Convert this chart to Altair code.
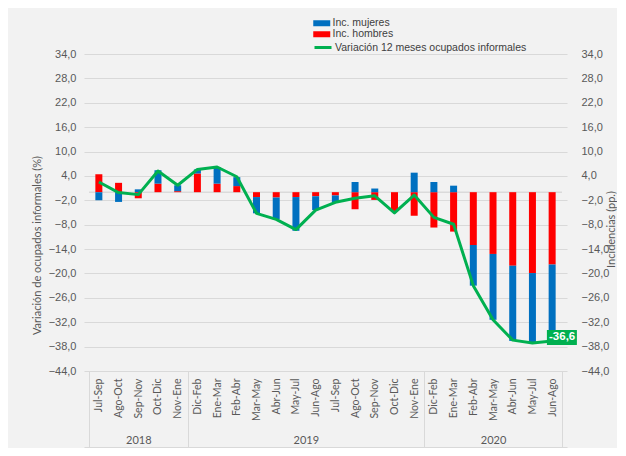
import json
import altair as alt
import pandas as pd

# ---------------- data ----------------
meses = ["Jul-Sep", "Ago-Oct", "Sep-Nov", "Oct-Dic", "Nov-Ene",
         "Dic-Feb", "Ene-Mar", "Feb-Abr", "Mar-May", "Abr-Jun", "May-Jul", "Jun-Ago",
         "Jul-Sep", "Ago-Oct", "Sep-Nov", "Oct-Dic", "Nov-Ene",
         "Dic-Feb", "Ene-Mar", "Feb-Abr", "Mar-May", "Abr-Jun", "May-Jul", "Jun-Ago"]
anios = ["2018", "2019", "2020"]
anio_meses = [5, 12, 7]

inc_hombres = [4.4, 2.3, -1.5, 2.1, 0.25, 4.6, 2.1, 1.5, -1.2, -1.3, -1.2, -1.0,
               -0.8, -4.2, -1.9, -4.7, -5.8, -8.7, -9.7, -13.0, -15.2, -18.1, -19.9, -17.8]
inc_mujeres = [-2.0, -2.4, 0.7, 3.3, 1.45, 1.0, 4.1, 2.2, -4.0, -5.4, -8.3, -3.4,
               -1.7, 2.5, 0.9, 0.0, 4.8, 2.5, 1.6, -10.0, -16.2, -18.5, -17.0, -18.8]
variacion = [2.5, -0.1, -0.6, 5.2, 1.7, 5.6, 6.2, 3.8, -5.2, -6.7, -9.2, -4.4,
             -2.5, -1.5, -0.9, -5.1, -0.7, -6.2, -7.9, -23.0, -31.4, -36.4, -37.1, -36.6]
y_ticks = [-44, -38, -32, -26, -20, -14, -8, -2, 4, 10, 16, 22, 28, 34]

S_MUJ = "Inc. mujeres"
S_HOM = "Inc. hombres"
S_VAR = "Variación 12 meses ocupados informales"

n = len(meses)
idx = list(range(n))

bars = pd.DataFrame(
    [{"idx": i, "serie": S_HOM, "valor": inc_hombres[i], "orden": 0} for i in idx]
    + [{"idx": i, "serie": S_MUJ, "valor": inc_mujeres[i], "orden": 1} for i in idx]
)
line = pd.DataFrame({"idx": idx, "valor": variacion, "serie": [S_VAR] * n})
last = pd.DataFrame({"idx": [idx[-1]], "valor": [variacion[-1]],
                     "txt": [f"{variacion[-1]:.1f}".replace(".", ",")]})
zero = pd.DataFrame({"x0": [-0.5], "x1": [n - 0.5], "y": [0]})

# year group positions (centers and boundaries in category units)
bounds = [-0.5]
centers = []
for k in anio_meses:
    centers.append(bounds[-1] + k / 2)
    bounds.append(bounds[-1] + k)

# ---------------- style ----------------
W, H = 483, 317
GRID = "#d9d9d9"
TXT = "#595959"
F_AX = "Liberation Sans"
F_CAT = "Lato"
BLUE, RED, GREEN = "#0070c0", "#ff0000", "#00b050"

xscale = alt.Scale(domain=[-0.5, n - 0.5], nice=False, zero=False)
yscale = alt.Scale(domain=[-44, 34], nice=False, zero=False)
ylab = "replace(format(datum.value, '.1f'), '.', ',')"

month_expr = json.dumps(meses) + "[datum.value]"
year_expr = " : ".join(
    f"datum.value == {c} ? '{a}'" for c, a in zip(centers[:-1], anios[:-1])
) + f" : '{anios[-1]}'"

x_month = alt.X("idx:Q", scale=xscale, axis=alt.Axis(
    orient="bottom", values=idx, labelExpr=month_expr, labelAngle=270,
    ticks=False, domain=False, grid=False, labelPadding=7,
    labelFont=F_CAT, labelFontSize=10.5, labelColor=TXT, title=None))

y_left = alt.Y("valor:Q", scale=yscale, stack="zero", axis=alt.Axis(
    orient="left", values=y_ticks, labelExpr=ylab, grid=True, gridColor=GRID,
    ticks=False, domain=False, labelPadding=8,
    labelFont=F_AX, labelFontSize=11, labelColor=TXT,
    title="Variación de ocupados informales (%)", titleFont=F_CAT,
    titleFontSize=11, titleFontWeight="normal", titleColor=TXT,
    titleAngle=270, titleX=-47, titleY=191, titleBaseline="middle",
    titleAlign="center"))

legend_common = dict(orient="none", title=None, symbolSize=100,
                     labelFont=F_AX, labelFontSize=10.5, labelColor="#404040",
                     labelOffset=5.5, labelLimit=0, rowPadding=0, padding=0)

bar_layer = alt.Chart(bars).mark_bar(size=7).encode(
    x=x_month,
    y=y_left,
    color=alt.Color("serie:N", scale=alt.Scale(domain=[S_MUJ, S_HOM], range=[BLUE, RED]),
                    legend=alt.Legend(legendX=232.5, legendY=-36,
                                      symbolType="M-1.7,-0.6H1.7V0.6H-1.7Z",
                                      symbolStrokeWidth=0, **legend_common)),
    order=alt.Order("orden:Q"),
)

zero_layer = alt.Chart(zero).mark_rule(color="#cfcfcf", strokeWidth=1).encode(
    x=alt.X("x0:Q", scale=xscale, axis=alt.Axis(
        orient="bottom", offset=76, domain=True, domainColor=GRID, ticks=False,
        labels=False, grid=False, title=None)),
    x2="x1:Q",
    y=alt.Y("y:Q", scale=yscale, axis=None),
)

line_layer = alt.Chart(line).mark_line(strokeWidth=3, strokeJoin="round").encode(
    x=alt.X("idx:Q", scale=xscale, axis=alt.Axis(
        orient="bottom", values=bounds, tickSize=76, tickColor=GRID, ticks=True,
        labels=False, domain=False, grid=False, title=None)),
    y=alt.Y("valor:Q", scale=yscale, axis=alt.Axis(
        orient="right", values=y_ticks, labelExpr=ylab, grid=False,
        ticks=False, domain=False, labelPadding=14,
        labelFont=F_AX, labelFontSize=11, labelColor=TXT,
        title="Incidencias (pp.)", titleFont=F_CAT, titleFontSize=11,
        titleFontWeight="normal", titleColor=TXT, titleAngle=270,
        titleX=44, titleY=175, titleBaseline="middle", titleAlign="center")),
    stroke=alt.Stroke("serie:N", scale=alt.Scale(domain=[S_VAR], range=[GREEN]),
                      legend=alt.Legend(legendX=232.5, legendY=-13,
                                        symbolType="M-1.7,0H1.7",
                                        symbolStrokeWidth=3, **legend_common)),
)

box_layer = alt.Chart(last).mark_point(
    shape="M-0.35,-0.73H1.65V0.27H-0.35Z", size=900, filled=True,
    fill=GREEN, opacity=1, strokeWidth=0).encode(
    x=alt.X("idx:Q", scale=xscale, axis=None),
    y=alt.Y("valor:Q", scale=yscale, axis=None),
)

label_layer = alt.Chart(last).mark_text(
    color="white", font=F_AX, fontSize=11.5, fontWeight="bold",
    dx=10, dy=-3.5, align="center", baseline="middle").encode(
    x=alt.X("idx:Q", scale=xscale, axis=alt.Axis(
        orient="bottom", values=centers, labelExpr=year_expr, ticks=False,
        domain=False, grid=False, labelPadding=63, labelAngle=0,
        labelFont=F_CAT, labelFontSize=11, labelColor=TXT, title=None)),
    y=alt.Y("valor:Q", scale=yscale, axis=None),
    text="txt:N",
)

chart = alt.layer(
    zero_layer, bar_layer, line_layer, box_layer, label_layer
).resolve_axis(x="independent", y="independent").resolve_legend(
    color="independent", stroke="independent"
).properties(
    width=W, height=H,
    autosize=alt.AutoSizeParams(type="none"),
    padding={"left": 76, "top": 46, "right": 50, "bottom": 77},
    background="#f2f2f2",
).configure_view(stroke=None)

chart.save("out.html", embed_options={"renderer": "svg", "actions": False})
